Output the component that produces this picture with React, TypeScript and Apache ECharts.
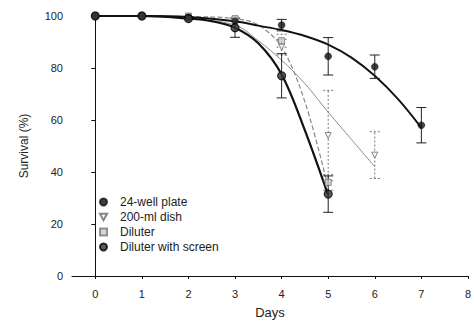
import React, { useEffect, useRef } from "react";
import * as echarts from "echarts";

// Measured points (mean, ± error)
const wellDays = [0, 1, 2, 3, 4, 5, 6, 7];
const wellMean = [100, 100, 99.5, 98, 96.5, 84.5, 80.5, 58];
const wellErr = [0, 0, 0, 0, 2.2, 7.2, 4.5, 6.8];

const dishDays = [0, 1, 2, 3, 4, 5, 6];
const dishMean = [100, 100, 99, 98.5, 88, 54, 46.5];
const dishErr = [0, 0, 0, 0, 3, 17.4, 9];

const dilDays = [0, 1, 2, 3, 4, 5];
const dilMean = [100, 100, 100, 99, 90.5, 36];
const dilErr = [0, 0, 0, 0, 2.5, 3];

const scrDays = [0, 1, 2, 3, 4, 5];
const scrMean = [100, 100, 99, 95.5, 77, 31.5];
const scrErr = [0, 0, 0, 3.7, 8.5, 7];

// Fitted curves
const wellCurveX = [0, 1, 2, 3, 3.5, 4, 4.5, 5, 5.5, 6, 6.5, 7];
const wellCurveY = [100, 100, 99.6, 98, 96.3, 94.6, 92.3, 89, 84, 77, 68, 57];

const dishCurveX = [0, 1, 2, 3, 3.5, 4, 4.5, 5, 5.5, 6];
const dishCurveY = [100, 100, 99, 96.5, 90.5, 83, 74, 63, 52.5, 42];

const dilCurveX = [0, 1, 2, 3, 3.5, 4, 4.5, 5];
const dilCurveY = [100, 100, 99.8, 99, 96.5, 88, 67, 34];

const scrCurveX = [0, 1, 2, 2.5, 3, 3.5, 4, 4.5, 5];
const scrCurveY = [100, 100, 99, 98, 95.5, 89.5, 77.5, 56, 31];

const xTicks = [0, 1, 2, 3, 4, 5, 6, 7, 8];
const yTicks = [0, 20, 40, 60, 80, 100];

const FONT = "Liberation Sans";
const TRI = "path://M0,0 L10,0 L5,9 Z";

function pairs(xs: number[], ys: number[]) {
  return xs.map((x, i) => [x, ys[i]]);
}

function errData(xs: number[], m: number[], e: number[]) {
  const out: number[][] = [];
  xs.forEach((x, i) => {
    if (e[i] > 0) out.push([x, m[i] - e[i], m[i] + e[i]]);
  });
  return out;
}

function errSeries(data: number[][], color: string, dashed: boolean, width: number) {
  return {
    type: "custom",
    silent: true,
    z: 3,
    data,
    renderItem: (params: any, api: any) => {
      const x = api.value(0);
      const lo = api.coord([x, api.value(1)]);
      const hi = api.coord([x, api.value(2)]);
      const cw = 5;
      const style = { stroke: color, lineWidth: width, lineDash: dashed ? [2, 2] : null };
      return {
        type: "group",
        children: [
          { type: "line", shape: { x1: lo[0], y1: lo[1], x2: hi[0], y2: hi[1] }, style },
          { type: "line", shape: { x1: lo[0] - cw, y1: lo[1], x2: lo[0] + cw, y2: lo[1] }, style },
          { type: "line", shape: { x1: hi[0] - cw, y1: hi[1], x2: hi[0] + cw, y2: hi[1] }, style },
        ],
      };
    },
  };
}

function curve(xs: number[], ys: number[], color: string, width: number, type: string) {
  return {
    type: "line",
    data: pairs(xs, ys),
    smooth: 0.35,
    showSymbol: false,
    symbol: "none",
    silent: true,
    z: 2,
    lineStyle: { color, width, type },
  };
}

export default function App() {
  const ref = useRef<HTMLDivElement>(null);
  useEffect(() => {
    const chart = echarts.init(ref.current!, null, { renderer: "svg" });
    chart.setOption({
      animation: false,
      backgroundColor: "#fff",
      grid: { left: 72, right: 5, top: 16, bottom: 47 },
      xAxis: {
        type: "value",
        min: -0.5,
        max: 8,
        splitNumber: 8,
        name: "Days",
        nameLocation: "middle",
        nameGap: 30,
        nameTextStyle: { fontFamily: FONT, fontSize: 13, color: "#222" },
        axisLine: { show: true, onZero: false, lineStyle: { color: "#111", width: 1 } },
        axisTick: { show: true, length: 3, lineStyle: { color: "#111" } },
        axisLabel: {
          showMinLabel: false,
          margin: 12,
          fontFamily: FONT,
          fontSize: 11,
          color: "#222",
          formatter: (v: number) => (xTicks.indexOf(v) >= 0 ? String(v) : ""),
        },
        splitLine: { show: false },
      },
      yAxis: {
        type: "value",
        min: yTicks[0],
        max: yTicks[yTicks.length - 1],
        interval: 20,
        name: "Survival (%)",
        nameLocation: "middle",
        nameGap: 42,
        nameTextStyle: { fontFamily: FONT, fontSize: 12, color: "#222" },
        axisLine: { show: true, lineStyle: { color: "#111", width: 1 } },
        axisTick: { show: true, length: 4, lineStyle: { color: "#111" } },
        axisLabel: { margin: 9, fontFamily: FONT, fontSize: 11, color: "#222" },
        splitLine: { show: false },
      },
      legend: {
        orient: "vertical",
        left: 94,
        top: 191,
        itemWidth: 7,
        itemHeight: 7,
        itemGap: 3,
        data: ["24-well plate", "200-ml dish", "Diluter", "Diluter with screen"],
        textStyle: { fontFamily: FONT, fontSize: 12, color: "#222", padding: [0, 0, 0, 8] },
      },
      series: [
        curve(dishCurveX, dishCurveY, "#8a8a8a", 1, "solid"),
        curve(dilCurveX, dilCurveY, "#8a8a8a", 1.2, "dashed"),
        curve(wellCurveX, wellCurveY, "#111", 1.9, "solid"),
        curve(scrCurveX, scrCurveY, "#111", 2.2, "solid"),
        errSeries(errData(dishDays, dishMean, dishErr), "#777", true, 1),
        errSeries(errData(dilDays, dilMean, dilErr), "#777", true, 1),
        errSeries(errData(wellDays, wellMean, wellErr), "#222", false, 1),
        errSeries(errData(scrDays, scrMean, scrErr), "#222", false, 1),
        {
          name: "200-ml dish",
          type: "scatter",
          z: 4,
          symbol: TRI,
          symbolSize: 6,
          itemStyle: { color: "#fff", borderColor: "#666", borderWidth: 1 },
          data: pairs(dishDays, dishMean),
        },
        {
          name: "Diluter",
          type: "scatter",
          z: 4,
          symbol: "rect",
          symbolSize: 6,
          itemStyle: { color: "#ccc", borderColor: "#777", borderWidth: 1 },
          data: pairs(dilDays, dilMean),
        },
        {
          name: "24-well plate",
          type: "scatter",
          z: 5,
          symbol: "circle",
          symbolSize: 7,
          itemStyle: { color: "#111", borderColor: "#111", borderWidth: 0.5 },
          data: pairs(wellDays, wellMean),
        },
        {
          name: "Diluter with screen",
          type: "scatter",
          z: 5,
          symbol: "circle",
          symbolSize: 8,
          itemStyle: { color: "#333", borderColor: "#000", borderWidth: 1.2 },
          data: pairs(scrDays, scrMean),
        },
      ],
    });
    return () => chart.dispose();
  }, []);
  return (
    <div
      ref={ref}
      style={{ position: "fixed", left: 0, top: 0, width: 474, height: 324 }}
    />
  );
}
